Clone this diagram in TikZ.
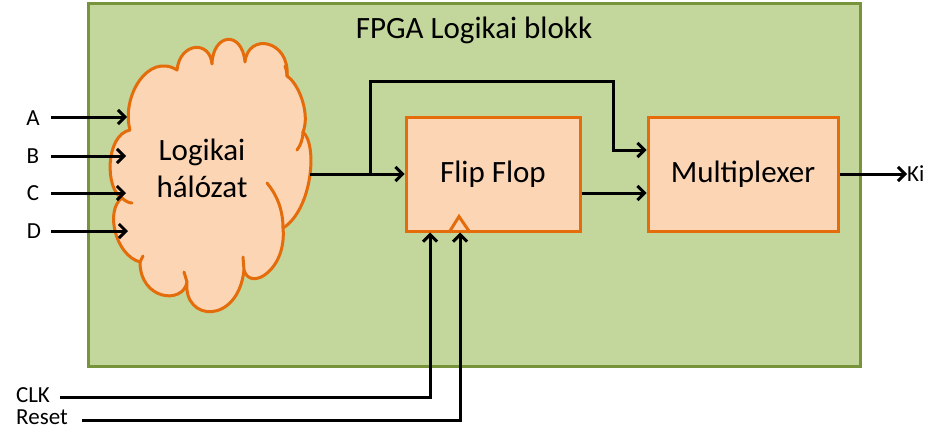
\documentclass[tikz,border=0pt]{standalone}
\usepackage{fontspec}
\setmainfont{Carlito}
\usetikzlibrary{arrows.meta,calc}
\definecolor{boxgreen}{HTML}{C3D69B}
\definecolor{boxgreenline}{HTML}{77933C}
\definecolor{peach}{HTML}{FCD5B5}
\definecolor{orangeline}{HTML}{E46C0A}
\begin{document}
\begin{tikzpicture}[x=1pt,y=-1pt,
  block/.style={draw=orangeline, fill=peach, line width=3pt, inner sep=0pt, font=\fontsize{31}{34}\selectfont},
  cloudline/.style={draw=orangeline, line width=3pt, line join=round, line cap=round},
  wire/.style={line width=3pt, -{Straight Barb[length=7pt,width=14pt]}},
  lbl/.style={font=\fontsize{23}{25}\selectfont, inner sep=0pt}]
\useasboundingbox (0,0) rectangle (947,444);
% outer block
\node[draw=boxgreenline, fill=boxgreen, line width=3pt, minimum width=772pt, minimum height=362pt, inner sep=0pt] (fpga) at (474,185) {};
\node[font=\fontsize{31}{34}\selectfont, inner sep=0pt] (title) at (474,30) {FPGA Logikai blokk};
% cloud
\path[cloudline, fill=peach] (130,130)
  .. controls (121,97) and (148,52) .. (177,70)
  .. controls (180,42) and (210,40) .. (212,64)
  .. controls (213,33) and (242,30) .. (245,62)
  .. controls (248,32) and (290,40) .. (287,76)
  .. controls (300,85) and (310,115) .. (303,132)
  .. controls (318,145) and (312,210) .. (283,228)
  .. controls (287,270) and (250,292) .. (244,270)
  .. controls (238,325) and (183,322) .. (187,282)
  .. controls (183,305) and (140,300) .. (140,262)
  .. controls (115,255) and (105,210) .. (122,198)
  .. controls (105,190) and (105,135) .. (130,130) -- cycle;
\draw[cloudline] (267,183) .. controls (277,195) and (283,210) .. (283,228);
\draw[cloudline] (297,150) .. controls (301,145) and (303,138) .. (303,132);
\draw[cloudline] (122,198) .. controls (125,201) and (129,203) .. (132,203);
\draw[cloudline] (244,270) -- (243,257);
\draw[cloudline] (187,282) -- (184,272);
\draw[cloudline] (140,262) -- (143,256);
\draw[cloudline] (287,76) .. controls (287,72) and (286,69) .. (285,66);
\node[font=\fontsize{31}{37}\selectfont, align=center, inner sep=0pt] (nettext) at (202,168) {Logikai\\hálózat};
\coordinate (netout) at (310,174);
% blocks
\node[block, minimum width=174pt, minimum height=114pt] (ff) at (493,174) {Flip Flop};
\node[block, minimum width=190pt, minimum height=114pt] (mux) at (743,174) {Multiplexer};
% clock triangle
\draw[orangeline, line width=3pt, line join=miter] ($(ff.south)+(-44,0)$) coordinate (t1) -- ($(ff.south)+(-34,-16)$) coordinate (t2) -- ($(ff.south)+(-23,0)$) coordinate (t3);
% inputs
\node[lbl] (A) at (33,118) {A};
\node[lbl] (B) at (33,156) {B};
\node[lbl] (C) at (33,193) {C};
\node[lbl] (D) at (34,231) {D};
\coordinate (ina) at (127,117);
\coordinate (inb) at (126,156);
\coordinate (inc) at (126,193);
\coordinate (ind) at (128,231);
\draw[wire] ($(A)+(18,-1)$) -- (ina);
\draw[wire] ($(B)+(18,0)$) -- (inb);
\draw[wire] ($(C)+(18,0)$) -- (inc);
\draw[wire] ($(D)+(17,0)$) -- (ind);
% cloud to flip flop, branch
\coordinate (br) at (370,174);
\coordinate (b1) at (370,81);
\coordinate (b2) at (613,81);
\coordinate (b3) at (613,150);
\draw[wire] (netout) -- (ff.west);
\draw[wire] (br) -- (b1) -- (b2) -- (b3) -- ($(mux.west)+(0,-24)$);
% ff to mux
\draw[wire] ($(ff.east)+(0,19)$) -- ($(mux.west)+(0,19)$);
% output
\node[lbl, anchor=west] (ki) at (907,174) {Ki};
\draw[wire] (mux.east) -- (ki.west);
% clk reset
\node[lbl] (clk) at (33,395) {CLK};
\node[lbl] (rst) at (42,417) {Reset};
\coordinate (clkstart) at (60,397);
\coordinate (clkc) at (430,397);
\coordinate (rststart) at (82,420);
\coordinate (rstc) at (460,420);
\draw[wire] (clkstart) -- (clkc) -- ($(ff.south)+(-63,0)$);
\draw[wire] (rststart) -- (rstc) -- ($(ff.south)+(-33,0)$);
\end{tikzpicture}
\end{document}
